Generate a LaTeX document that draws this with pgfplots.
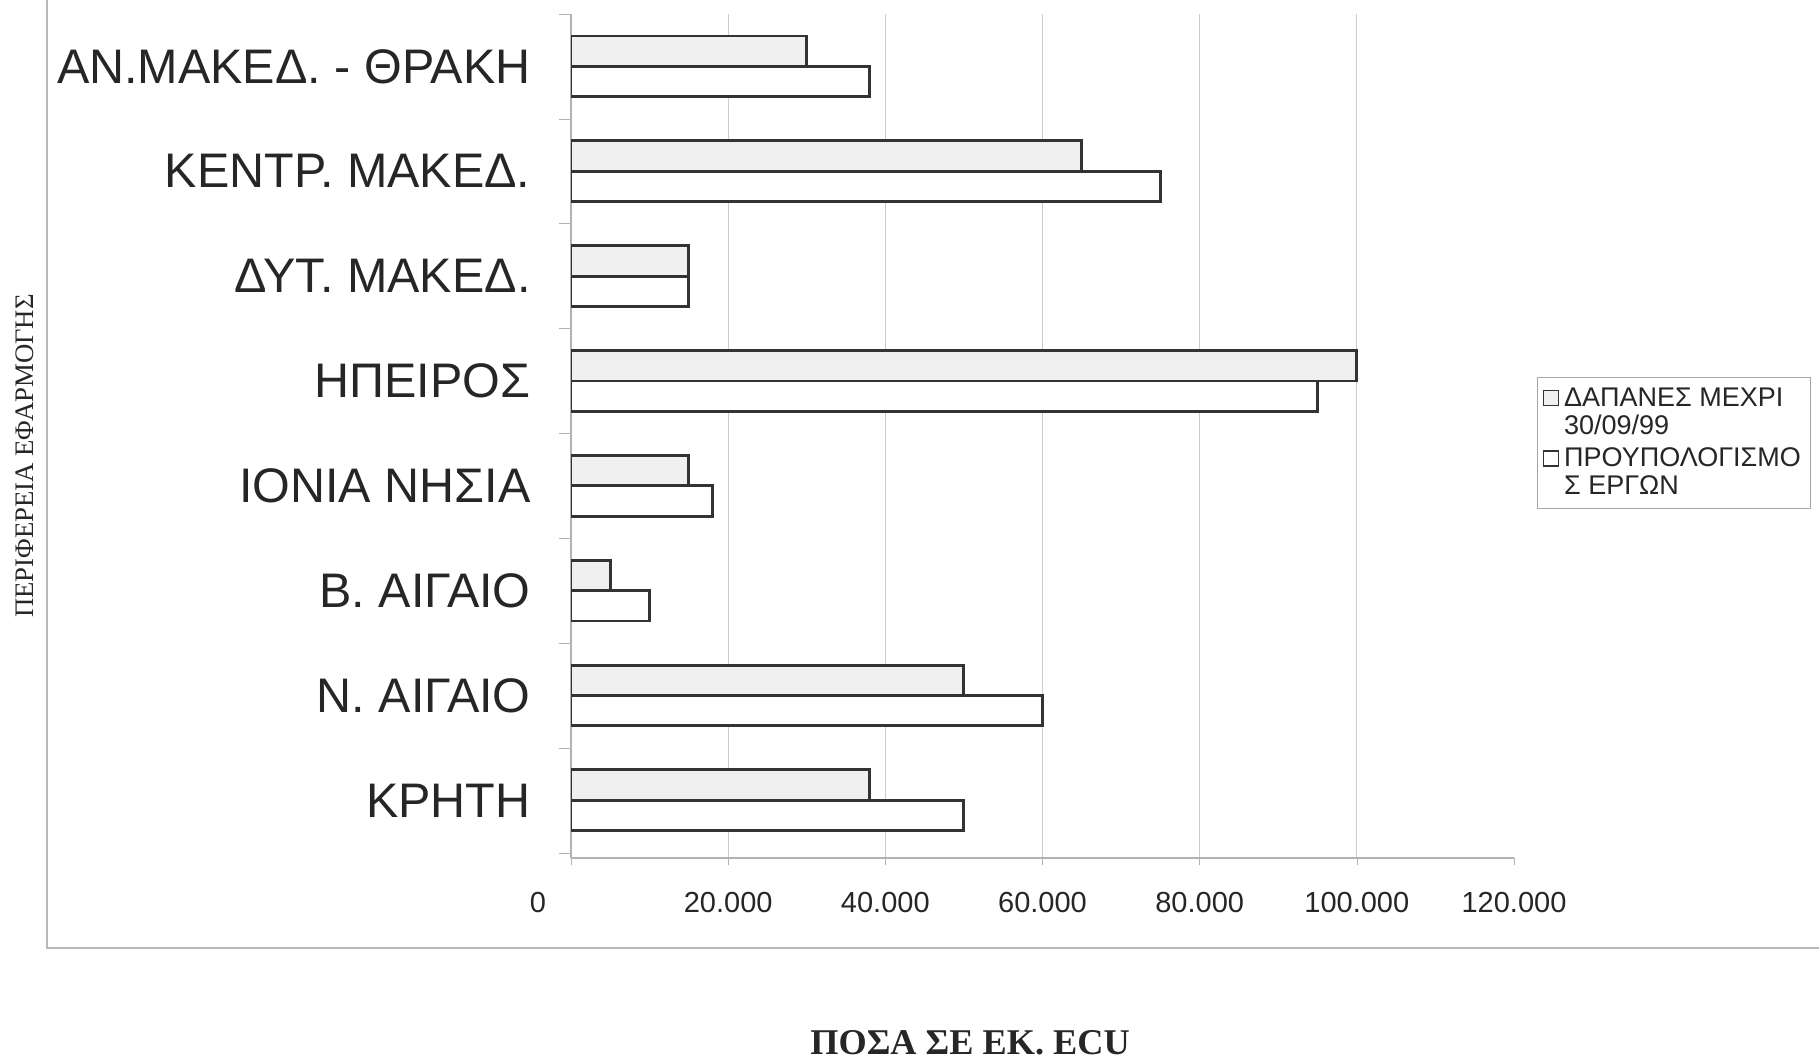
\documentclass[border=0pt]{standalone}
\usepackage{pgfplots}
\pgfplotsset{compat=1.18}
\usepackage{pgfplotstable}
\usepackage{fontspec}
\setmainfont{Liberation Sans}
\newfontfamily\serif{Liberation Serif}

% y: 0 = ΚΡΗΤΗ (bottom) ... 7 = ΑΝ.ΜΑΚΕΔ. - ΘΡΑΚΗ (top)
\pgfplotstableread{
y dap prou
7 30000 38000
6 65000 75000
5 15000 15000
4 100000 95000
3 15000 18000
2 5000 10000
1 50000 60000
0 38000 50000
}\data

\definecolor{txt}{HTML}{262626}
\definecolor{barline}{HTML}{333333}

\begin{document}
\begin{tikzpicture}[x=1pt,y=1pt]
\path[use as bounding box] (0,0) rectangle (727.6,424.8);
\draw[gray!55, line width=0.6pt] (18.8,424.8) -- (18.8,45.6) -- (727.6,45.6);
\begin{axis}[
  at={(228.4pt,81.6pt)}, anchor=south west,
  scale only axis, width=377.2pt, height=337.6pt,
  xbar, bar width=0.29,
  xmin=0, xmax=120000, ymin=-0.55, ymax=7.5,
  axis x line*=bottom, axis y line*=left,
  axis line style={gray!60, line width=0.6pt},
  tick align=outside,
  major tick length=3pt, minor tick length=4.8pt,
  xtick={20000,40000,...,100000},
  extra x ticks={0,120000},
  extra x tick labels={\llap{0\hspace{10pt}}, 120.000},
  extra x tick style={grid=none},
  scaled x ticks=false,
  /pgf/number format/fixed,
  /pgf/number format/1000 sep={.},
  /pgf/number format/assume math mode=true,
  xmajorgrids,
  grid style={gray!40, line width=0.5pt},
  major x tick style={gray!60},
  xticklabel style={font=\fontsize{11.6}{13}\selectfont, text=txt, inner sep=0pt, yshift=-10.4pt},
  ytick={0,...,7},
  yticklabels={ΚΡΗΤΗ, Ν. ΑΙΓΑΙΟ, Β. ΑΙΓΑΙΟ, ΙΟΝΙΑ ΝΗΣΙΑ, ΗΠΕΙΡΟΣ, ΔΥΤ. ΜΑΚΕΔ., ΚΕΝΤΡ. ΜΑΚΕΔ., ΑΝ.ΜΑΚΕΔ. - ΘΡΑΚΗ},
  minor ytick={-0.5,0.5,...,7.5},
  major y tick style={draw=none},
  minor y tick style={gray!60},
  yticklabel style={font=\fontsize{19.4}{22}\selectfont, text=txt, inner sep=0pt, xshift=-13pt},
  legend style={at={(1.0244,0.570)}, anchor=north west, draw=gray!70, line width=0.5pt,
    font=\fontsize{10.8}{11.2}\selectfont, text=txt,
    cells={align=left, anchor=west}, inner sep=2pt},
]
\addplot[fill=gray!12, draw=barline, line width=1.15pt, bar shift=0.145,
  legend image code/.code={\draw[fill=gray!12, draw=barline, line width=0.6pt] (1pt,2.8pt) rectangle (7pt,8.8pt);}]
  table[x=dap, y=y] {\data};
\addlegendentry{ΔΑΠΑΝΕΣ ΜΕΧΡΙ\\30/09/99}
\addplot[fill=white, draw=barline, line width=1.15pt, bar shift=-0.145,
  legend image code/.code={\draw[fill=white, draw=barline, line width=0.6pt] (1pt,2.8pt) rectangle (7pt,8.8pt);}]
  table[x=prou, y=y] {\data};
\addlegendentry{ΠΡΟΥΠΟΛΟΓΙΣΜΟ\\Σ ΕΡΓΩΝ}
\end{axis}
\node[rotate=90, font=\serif\fontsize{10.7}{12}\selectfont, text=txt] at (10,242.4) {ΠΕΡΙΦΕΡΕΙΑ ΕΦΑΡΜΟΓΗΣ};
\node[font=\serif\bfseries\fontsize{14.5}{16}\selectfont, text=txt] at (388,7.6) {ΠΟΣΑ ΣΕ ΕΚ. ECU};
\end{tikzpicture}
\end{document}
